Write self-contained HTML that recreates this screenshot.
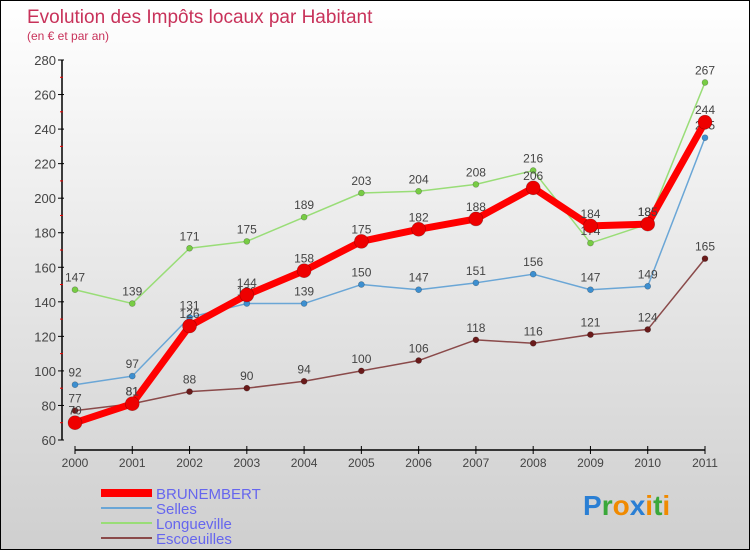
<!DOCTYPE html>
<html><head><meta charset="utf-8"><style>
html,body{margin:0;padding:0}
body{width:750px;height:550px;overflow:hidden;font-family:"Liberation Sans",sans-serif}
#wrap{position:relative;width:748px;height:548px;border:1px solid #000;background:linear-gradient(#ffffff,#cfcfcf)}
</style></head><body>
<div id="wrap">
<svg id="chart" width="748" height="548" xmlns="http://www.w3.org/2000/svg">
<text x="26" y="22" font-size="19" fill="#c8325a">Evolution des Impôts locaux par Habitant</text>
<text x="26" y="39" font-size="12" fill="#c8325a">(en € et par an)</text>
<g id="axes"></g>
<g id="series"></g>
<g id="legend"></g>
<text x="582" y="514" font-size="28" font-weight="bold"><tspan fill="#2a7fd4">P</tspan><tspan fill="#3aa83a">r</tspan><tspan fill="#f08a00">o</tspan><tspan fill="#2a7fd4">x</tspan><tspan fill="#f08a00">i</tspan><tspan fill="#3aa83a">t</tspan><tspan fill="#f08a00">i</tspan></text>
</svg>
</div>
<script>
const years=["2000","2001","2002","2003","2004","2005","2006","2007","2008","2009","2010","2011"];
const yTicks=[60,80,100,120,140,160,180,200,220,240,260,280];
const brunembert=[70,81,126,144,158,175,182,188,206,184,185,244];
const selles=[92,97,131,139,139,150,147,151,156,147,149,235];
const longueville=[147,139,171,175,189,203,204,208,216,174,185,267];
const escoeuilles=[77,81,88,90,94,100,106,118,116,121,124,165];
const NS="http://www.w3.org/2000/svg";
const X0=74,X1=704,Y0=439,Y1=59,VMIN=60,VMAX=280;
function xs(i){return X0+(X1-X0)*i/(years.length-1);}
function ys(v){return Y0-(v-VMIN)*(Y0-Y1)/(VMAX-VMIN);}
function mk(tag,attrs,parent){const e=document.createElementNS(NS,tag);for(const k in attrs)e.setAttribute(k,attrs[k]);parent.appendChild(e);return e;}
const ax=document.getElementById('axes');
let l=mk('line',{x1:61,y1:Y1,x2:61,y2:Y0,stroke:'#000','stroke-width':1.5},ax);


yTicks.forEach((v,i)=>{
  mk('line',{x1:57,y1:ys(v),x2:63,y2:ys(v),stroke:'#000'},ax);
  if(i<yTicks.length-1){mk('line',{x1:59,y1:ys(v+10),x2:62,y2:ys(v+10),stroke:'#e00'},ax);}
  const t=mk('text',{x:55,y:ys(v)+5,'text-anchor':'end','font-size':13,fill:'#444'},ax);
  t.textContent=v;
  
  
});
l=mk('line',{x1:X0,y1:449,x2:X1,y2:449,stroke:'#000','stroke-width':1.5},ax);


years.forEach((y,i)=>{
  mk('line',{x1:xs(i),y1:445,x2:xs(i),y2:453,stroke:'#000'},ax);
  const t=mk('text',{x:xs(i),y:466,'text-anchor':'middle','font-size':12,fill:'#444'},ax);
  t.textContent=y;
  
  
});
const sg=document.getElementById('series');
function drawSeries(name,vals,color,dot,w,r){
  const g=mk('g',{},sg);
  
  
  const pts=vals.map((v,i)=>xs(i)+','+ys(v)).join(' ');
  mk('polyline',{points:pts,fill:'none',stroke:color,'stroke-width':w,'stroke-linejoin':'round'},g);
  vals.forEach((v,i)=>{
    const c=mk('circle',{cx:xs(i),cy:ys(v),r:r,fill:dot,stroke:'rgba(0,0,0,0.3)','stroke-width':0.6},g);
    
    
    const t=mk('text',{x:xs(i),y:ys(v)-8,'text-anchor':'middle','font-size':12,fill:'#444'},g);
    t.textContent=v;
    
    
  });
}
drawSeries('longueville',longueville,'#99dd77','#77cc44',1.5,3);
drawSeries('selles',selles,'#6aa6d6','#3d8fd0',1.5,3);
drawSeries('escoeuilles',escoeuilles,'#8a4a4a','#6a1a1a',1.5,3);
drawSeries('brunembert',brunembert,'#ff0000','#ee0000',7,7);
const lg=document.getElementById('legend');
const items=[["BRUNEMBERT","#ff0000",8],["Selles","#6aa6d6",2],["Longueville","#99dd77",2],["Escoeuilles","#8a4a4a",2]];
items.forEach((it,i)=>{
  const y=492+i*15;
  const g=mk('g',{},lg);
  
  
  mk('line',{x1:100,y1:y,x2:151,y2:y,stroke:it[1],'stroke-width':it[2]},g);
  const t=mk('text',{x:155,y:y+6,'font-size':15,fill:'#6666ee'},g);
  t.textContent=it[0];
});
</script>
</body></html>
